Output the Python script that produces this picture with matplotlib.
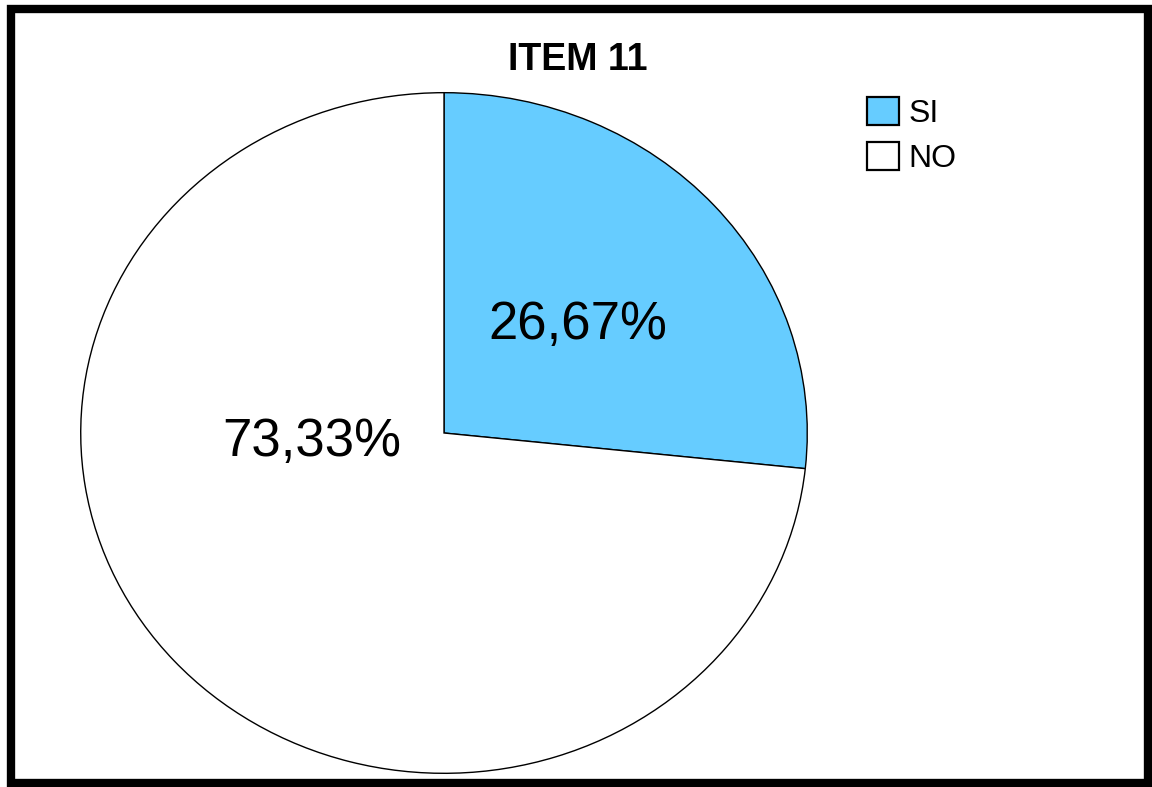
import matplotlib.pyplot as plt
from matplotlib.patches import Rectangle

plt.rcParams['font.family'] = ['Liberation Sans', 'DejaVu Sans']

# datos del grafico
categorias = ['SI', 'NO']
porcentajes = [26.67, 73.33]
colores = ['#66CCFF', '#FFFFFF']
titulo = 'ITEM 11'

W, H = 1152, 787
fig = plt.figure(figsize=(W / 100, H / 100), dpi=100)

# marco negro alrededor de la figura
fig.patches.append(Rectangle((11 / W, 4 / H), 1137 / W, 774 / H, transform=fig.transFigure,
                             fill=False, edgecolor='black', linewidth=6))

# ejes del pastel (elipse un poco mas ancha que alta)
ax = fig.add_axes([80 / W, 13 / H, 728 / W, 682 / H])
wedges, _ = ax.pie(porcentajes, colors=colores, startangle=90, counterclock=False,
                   wedgeprops=dict(edgecolor='black', linewidth=1.0))
ax.set_aspect('auto')
ax.set_xlim(-1.002, 1.002)
ax.set_ylim(-1.002, 1.002)

# etiquetas de porcentaje
pos_etiquetas = [(578, 325), (312, 442)]
for val, (px, py) in zip(porcentajes, pos_etiquetas):
    txt = f'{val:.2f}%'.replace('.', ',')
    fig.text(px / W, 1 - py / H, txt, fontsize=38, ha='center', va='center')

fig.text(578 / W, 1 - 60 / H, titulo, fontsize=27, fontweight='bold', ha='center', va='center')

leg = fig.legend(wedges, categorias, loc='upper left', bbox_to_anchor=(867 / W, 1 - 97 / H),
                 frameon=False, fontsize=23, handlelength=1.0, handleheight=0.95,
                 handletextpad=0.3, labelspacing=0.42, borderpad=0, borderaxespad=0)
for h in leg.legend_handles:
    h.set_linewidth(1.6)

fig.savefig('out.png', dpi=100)
